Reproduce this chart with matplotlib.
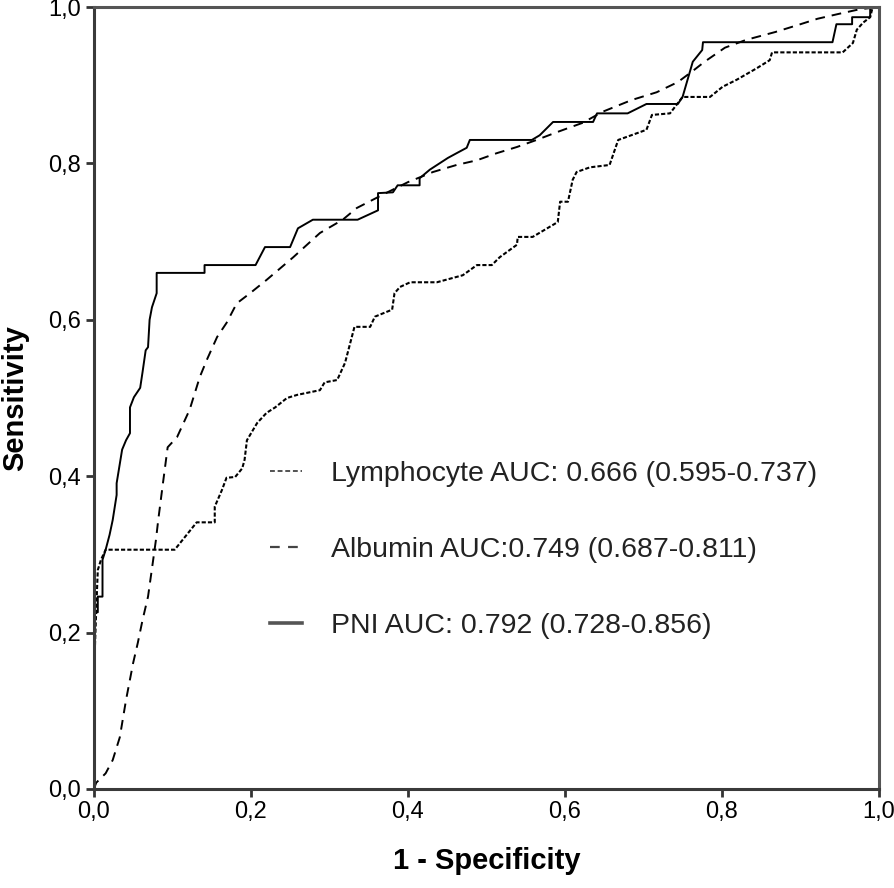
import matplotlib
matplotlib.use("Agg")
import matplotlib.pyplot as plt
from matplotlib.lines import Line2D
from matplotlib.ticker import FuncFormatter

plt.rcParams['font.family'] = ['Liberation Sans', 'DejaVu Sans']
plt.rcParams['lines.scale_dashes'] = False

# ROC curves (1 - specificity, sensitivity)
pni_x = [0, 0, 0.005, 0.005, 0.011, 0.011, 0.015, 0.020, 0.024, 0.029, 0.029,
         0.036, 0.041, 0.046, 0.046, 0.051, 0.059, 0.062, 0.066, 0.069, 0.071,
         0.074, 0.080, 0.080, 0.141, 0.141, 0.206, 0.218, 0.250, 0.260, 0.279,
         0.336, 0.362, 0.362, 0.381, 0.387, 0.415, 0.415, 0.428, 0.451, 0.462,
         0.475, 0.479, 0.558, 0.568, 0.581, 0.585, 0.636, 0.641, 0.680, 0.704,
         0.744, 0.750, 0.763, 0.775, 0.776, 0.941, 0.946, 0.966, 0.966, 0.989,
         0.989, 1.0]
pni_y = [0, 0.226, 0.226, 0.246, 0.246, 0.293, 0.306, 0.325, 0.344, 0.376, 0.391,
         0.434, 0.446, 0.455, 0.488, 0.501, 0.513, 0.533, 0.561, 0.565, 0.600,
         0.616, 0.634, 0.660, 0.660, 0.670, 0.670, 0.693, 0.693, 0.717, 0.728,
         0.728, 0.740, 0.762, 0.763, 0.772, 0.772, 0.781, 0.792, 0.807, 0.813,
         0.820, 0.830, 0.830, 0.836, 0.849, 0.853, 0.853, 0.864, 0.864, 0.876,
         0.876, 0.885, 0.930, 0.945, 0.955, 0.955, 0.978, 0.978, 0.987, 0.987,
         1.0, 1.0]

alb_x = [0, 0.003, 0.015, 0.024, 0.033, 0.041, 0.050, 0.056, 0.062, 0.069, 0.075,
         0.079, 0.082, 0.088, 0.094, 0.106, 0.122, 0.135, 0.144, 0.157, 0.169,
         0.182, 0.199, 0.220, 0.254, 0.288, 0.317, 0.335, 0.368, 0.400, 0.432,
         0.462, 0.488, 0.513, 0.539, 0.564, 0.590, 0.623, 0.648, 0.685, 0.717,
         0.744, 0.764, 0.778, 0.804, 0.831, 0.868, 0.897, 0.922, 0.948, 0.975, 1.0]
alb_y = [0, 0.008, 0.020, 0.037, 0.066, 0.114, 0.161, 0.187, 0.216, 0.246, 0.289,
         0.318, 0.344, 0.391, 0.437, 0.450, 0.485, 0.527, 0.549, 0.578, 0.596,
         0.621, 0.634, 0.651, 0.680, 0.711, 0.728, 0.743, 0.760, 0.776, 0.789,
         0.798, 0.804, 0.813, 0.821, 0.830, 0.840, 0.852, 0.866, 0.881, 0.891,
         0.904, 0.919, 0.930, 0.948, 0.958, 0.968, 0.977, 0.985, 0.991, 0.997, 1.0]

lym_x = [0, 0, 0.003, 0.005, 0.009, 0.015, 0.103, 0.131, 0.154, 0.154, 0.163,
         0.169, 0.180, 0.189, 0.192, 0.195, 0.208, 0.220, 0.231, 0.246, 0.259,
         0.288, 0.294, 0.310, 0.320, 0.332, 0.352, 0.358, 0.380, 0.383, 0.390,
         0.403, 0.437, 0.470, 0.488, 0.507, 0.517, 0.539, 0.540, 0.559, 0.591,
         0.594, 0.604, 0.610, 0.615, 0.632, 0.657, 0.668, 0.704, 0.711, 0.734,
         0.750, 0.785, 0.801, 0.819, 0.845, 0.861, 0.864, 0.954, 0.967, 0.972,
         0.980, 0.989, 0.992, 1.0]
lym_y = [0, 0.143, 0.229, 0.280, 0.293, 0.306, 0.306, 0.341, 0.341, 0.361, 0.382,
         0.398, 0.399, 0.410, 0.421, 0.446, 0.468, 0.481, 0.488, 0.500, 0.504,
         0.510, 0.520, 0.523, 0.545, 0.591, 0.591, 0.604, 0.613, 0.634, 0.642,
         0.648, 0.648, 0.657, 0.670, 0.670, 0.680, 0.696, 0.706, 0.706, 0.725,
         0.751, 0.751, 0.779, 0.789, 0.795, 0.798, 0.830, 0.843, 0.862, 0.864,
         0.885, 0.885, 0.898, 0.907, 0.922, 0.932, 0.942, 0.942, 0.954, 0.971,
         0.980, 0.987, 0.999, 1.0]

labels = ['Lymphocyte AUC: 0.666 (0.595-0.737)',
          'Albumin AUC:0.749 (0.687-0.811)',
          'PNI AUC: 0.792 (0.728-0.856)']
ticks = [0, 0.2, 0.4, 0.6, 0.8, 1.0]

lym_dash = (3, 1.5)
alb_dash = (7, 5)

fig = plt.figure(figsize=(8.94, 8.88), dpi=100)
ax = fig.add_axes([0.105, 0.1115, 0.878, 0.8806])

ax.plot(lym_x, lym_y, color='black', lw=1.5, dashes=lym_dash)
ax.plot(alb_x, alb_y, color='black', lw=1.4, dashes=alb_dash)
ax.plot(pni_x, pni_y, color='black', lw=1.4)

ax.set_xlim(0, 1)
ax.set_ylim(0, 1)
ax.set_xticks(ticks)
ax.set_yticks(ticks)
fmt = FuncFormatter(lambda v, p: f"{v:.1f}".replace('.', ','))
ax.xaxis.set_major_formatter(fmt)
ax.yaxis.set_major_formatter(fmt)
ax.tick_params(length=6, width=2, color='#333333', labelsize=17, pad=3)

for s in ax.spines.values():
    s.set_linewidth(2.2)
    s.set_color('#3a3a3a')
ax.spines['top'].set_color('#555555')
ax.spines['right'].set_color('#555555')

ax.set_xlabel('1 - Specificity', fontsize=21, fontweight='bold', labelpad=17)
ax.set_ylabel('Sensitivity', fontsize=21, fontweight='bold', labelpad=14)

# legend, drawn without a frame
handles = [Line2D([], [], color='#444444', lw=1.3, dashes=(3.5, 2)),
           Line2D([], [], color='#444444', lw=1.6, dashes=(7, 6)),
           Line2D([], [], color='#555555', lw=2.6)]
leg = ax.legend(handles, labels, loc='center left', bbox_to_anchor=(0.224, 0.306),
                frameon=False, fontsize=20.5, handlelength=1.15, handletextpad=1.0,
                labelspacing=1.75, borderpad=0, borderaxespad=0)
for t in leg.get_texts():
    t.set_color('#222222')

fig.savefig('out.png', dpi=100)
